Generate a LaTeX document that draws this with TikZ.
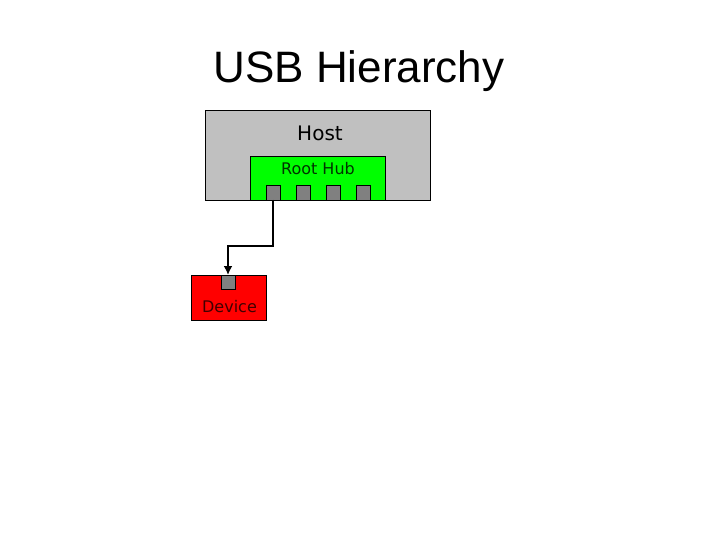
\documentclass[tikz,border=0pt]{standalone}
\usepackage{fontspec}
\setmainfont{Liberation Sans}
\newfontfamily\boxfont{DejaVu Sans}
\usetikzlibrary{arrows.meta}
\definecolor{hostgray}{RGB}{192,192,192}
\definecolor{hubgreen}{RGB}{0,255,0}
\definecolor{devred}{RGB}{255,0,0}
\definecolor{portgray}{RGB}{128,128,128}
\begin{document}
\begin{tikzpicture}[x=1pt, y=-1pt, >={Latex[length=9pt,width=9pt]},
      box/.style={draw, line width=0.8pt, inner sep=0pt, outer sep=0pt},
      port/.style={box, fill=portgray, minimum width=14pt, minimum height=15pt},
      lbl/.style={anchor=base, inner sep=0pt, font=\boxfont\fontsize{16}{18}\selectfont}]
    \useasboundingbox (0,0) rectangle (720,540);
    \node[anchor=base, inner sep=0pt, font=\fontsize{44}{50}\selectfont] (title) at (359,83) {USB Hierarchy};
    \node[box, fill=hostgray, minimum width=225pt, minimum height=90pt] (host) at (318,155) {};
    \node[lbl, font=\boxfont\fontsize{20}{22}\selectfont] (hosttxt) at (320,141) {Host};
    \node[box, fill=hubgreen, minimum width=135pt, minimum height=44pt] (hub) at (318,178) {};
    \node[lbl, text=green!20!black] (hubtxt) at (318,175) {Root Hub};
    \foreach \i in {0,...,3}
      \node[port] (port\i) at (273+30*\i,192.5) {};
    \node[box, fill=devred, minimum width=75pt, minimum height=45pt] (dev) at (228.5,297.5) {};
    \node[port, minimum height=14pt] (devport) at (228,282) {};
    \node[lbl, text=red!25!black] (devtxt) at (229.5,312) {Device};
    \draw[->, line width=2pt] (port0.south) -- ++(0,46) -| (devport.north);
  \end{tikzpicture}
\end{document}
